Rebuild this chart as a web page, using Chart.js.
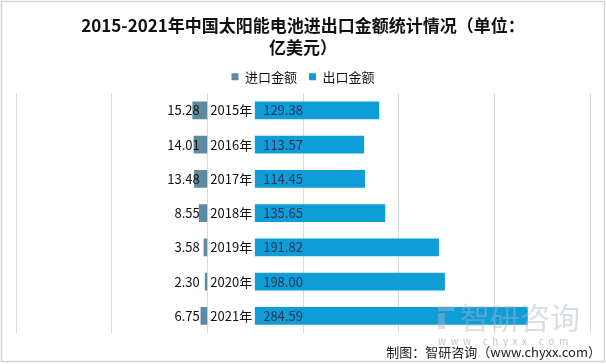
<!doctype html>
<html lang="zh">
<head>
<meta charset="utf-8">
<title>太阳能电池进出口</title>
<script src="https://cdn.jsdelivr.net/npm/chart.js@4/dist/chart.umd.min.js"></script>
<style>
  body { margin: 0; background: #fff; }
  #wrap { width: 606px; height: 364px; }
</style>
</head>
<body>
<div id="wrap"><canvas id="chart"></canvas></div>
<script>
  // 数据（亿美元）
  var years = ['2015年', '2016年', '2017年', '2018年', '2019年', '2020年', '2021年'];
  var importAmt = [15.28, 14.01, 13.48, 8.55, 3.58, 2.30, 6.75];
  var exportAmt = [129.38, 113.57, 114.45, 135.65, 191.82, 198.00, 284.59];
  var labelGap = 50; // 出口条从 50 开始，中间放年份

  var font = '"Noto Sans CJK SC", "Noto Sans", sans-serif';

  var labelsPlugin = {
    id: 'labels',
    afterDatasetsDraw: function (chart) {
      var ctx = chart.ctx;
      var x = chart.scales.x, y = chart.scales.y;
      ctx.save();
      ctx.font = '13px ' + font;
      ctx.textBaseline = 'middle';
      for (var i = 0; i < years.length; i++) {
        var py = y.getPixelForValue(i);
        ctx.fillStyle = '#111';
        ctx.textAlign = 'center';
        ctx.fillText(years[i], x.getPixelForValue(labelGap / 2), py);
        ctx.textAlign = 'right';
        ctx.fillText(importAmt[i].toFixed(2), x.getPixelForValue(-8), py);
        ctx.fillStyle = '#1e3557';
        ctx.textAlign = 'left';
        ctx.fillText(exportAmt[i].toFixed(2), x.getPixelForValue(labelGap) + 8, py);
      }
      ctx.restore();
    },
    afterDraw: function (chart) {
      var ctx = chart.ctx;
      ctx.save();
      // 水印
      ctx.fillStyle = 'rgba(170,182,192,0.45)';
      ctx.fillRect(438, 306, 16, 5);
      ctx.fillRect(438, 313, 7, 16);
      ctx.font = '30px ' + font;
      ctx.textAlign = 'left';
      ctx.textBaseline = 'middle';
      ctx.fillText('智研咨询', 460, 318);
      ctx.font = '10px ' + font;
      ctx.fillStyle = 'rgba(150,160,170,0.6)';
      ctx.fillText('w  w  w  .  c  h  y  x  x  .  c  o  m', 438, 341);
      // 制图
      ctx.fillStyle = '#222';
      ctx.font = '13px ' + font;
      ctx.textAlign = 'right';
      ctx.fillText('制图：智研咨询（www.chyxx.com）', 601, 352);
      // 边框
      ctx.strokeStyle = '#d4d4d4';
      ctx.lineWidth = 1.5;
      ctx.strokeRect(1.5, 1.5, 603, 360);
      ctx.restore();
    }
  };

  new Chart(document.getElementById('chart'), {
    type: 'bar',
    data: {
      labels: years,
      datasets: [{
        label: '进口金额',
        data: importAmt.map(function (v) { return [-v, 0]; }),
        backgroundColor: '#5d8ba1',
        grouped: false,
        barThickness: 17
      }, {
        label: '出口金额',
        data: exportAmt.map(function (v) { return [labelGap, labelGap + v]; }),
        backgroundColor: '#0f9dd7',
        grouped: false,
        barThickness: 17
      }]
    },
    options: {
      indexAxis: 'y',
      responsive: true,
      maintainAspectRatio: false,
      animation: false,
      layout: { padding: { left: 16, right: 16, bottom: 31 } },
      scales: {
        x: {
          min: -200, max: 400,
          ticks: { display: false, stepSize: 100 },
          grid: { color: '#d9d9d9', drawTicks: false },
          border: { display: false }
        },
        y: {
          display: false
        }
      },
      plugins: {
        title: {
          display: true,
          text: ['2015-2021年中国太阳能电池进出口金额统计情况（单位：', '亿美元）'],
          color: '#111',
          font: { family: font, size: 17, weight: 'bold', lineHeight: 1.3 },
          padding: { top: 14, bottom: 0 }
        },
        legend: {
          position: 'top',
          labels: {
            color: '#111',
            font: { family: font, size: 13 },
            boxWidth: 7, boxHeight: 7,
            padding: 12
          }
        },
        tooltip: { enabled: false }
      }
    },
    plugins: [labelsPlugin]
  });
</script>
</body>
</html>
